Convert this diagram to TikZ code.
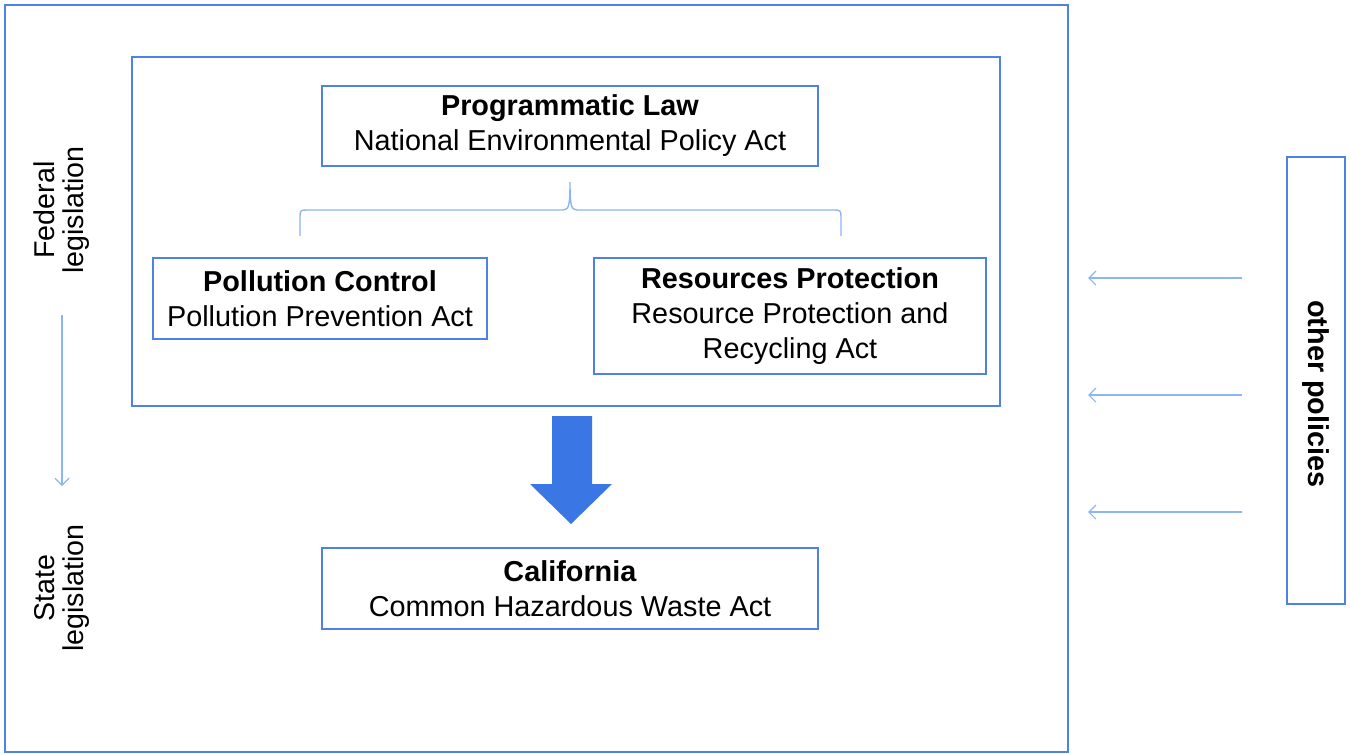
\documentclass[tikz,border=0pt]{standalone}
\usepackage{fontspec}
\setmainfont{Liberation Sans}
\usetikzlibrary{arrows.meta, positioning}
\definecolor{boxblue}{RGB}{78,130,228}
\definecolor{lightblue}{RGB}{140,182,242}
\definecolor{bigblue}{RGB}{58,118,228}
\tikzset{
  lawbox/.style={draw=boxblue, line width=0.9pt, align=center, inner sep=0pt},
  sidetext/.style={align=center, font=\fontsize{16.3}{16.6}\selectfont},
  thinarrow/.style={draw=lightblue, line width=0.7pt, -{Straight Barb[length=4pt, width=8pt]}}
}

\begin{document}
\begin{tikzpicture}[x=0.02cm, y=-0.02cm, font=\fontsize{16.4}{19.9}\selectfont]
        \useasboundingbox (0,0) rectangle (1350,754);
        % frames
        \draw[boxblue, line width=1.1pt] (5,5) rectangle (1068,752);
        \draw[boxblue, line width=1pt] (132,57) rectangle (1000,406);

        \node[lawbox, minimum width=9.92cm, minimum height=1.6cm] (prog) at (570,126)
            {\textbf{Programmatic Law}\\National Environmental Policy Act};
        \node[lawbox, minimum width=6.68cm, minimum height=1.62cm] (poll) at (320,298.5)
            {\textbf{Pollution Control}\\Pollution Prevention Act};
        \node[lawbox, minimum width=7.84cm, minimum height=2.32cm] (res) at (790,316)
            {\textbf{Resources Protection}\\Resource Protection and\\Recycling Act};
        \node[lawbox, minimum width=9.92cm, minimum height=1.62cm] (calif) at (570,588.5)
            {\textbf{California}\\Common Hazardous Waste Act};

        % brace
        \draw[lightblue, line width=0.8pt] (300,236) -- (300,216)
            .. controls (300,211) and (301,210) .. (306,210) -- (563,210)
            .. controls (569,210) and (570,205) .. (570,182)
            .. controls (570,205) and (571,210) .. (577,210) -- (835,210)
            .. controls (840,210) and (841,211) .. (841,216) -- (841,236);

        % big arrow
        \fill[bigblue] (552,416) -- (592,416) -- (592,484) -- (612,484)
            -- (571,524) -- (530,484) -- (552,484) -- cycle;

        % left side
        \node[sidetext, rotate=90] (fed) at (62,210) {Federal\\legislation};
        \node[sidetext, rotate=90] (state) at (62,588) {State\\legislation};
        \coordinate (fedend) at (62,315);
        \coordinate (stateend) at (62,486);
        \draw[thinarrow] (fedend) -- (stateend);

        % right side
        \node[draw=boxblue, line width=0.9pt, minimum width=1.16cm, minimum height=8.94cm] (other) at (1316,380.5) {};
        \node[rotate=-90, font=\fontsize{16.4}{17}\selectfont\bfseries] (othertext) at (1316,394) {other policies};
        \foreach \y [count=\i] in {278,395,512} {
            \coordinate (s\i) at (1242,\y);
            \coordinate (t\i) at (1088,\y);
            \draw[thinarrow] (s\i) -- (t\i);
        }
    \end{tikzpicture}
\end{document}
